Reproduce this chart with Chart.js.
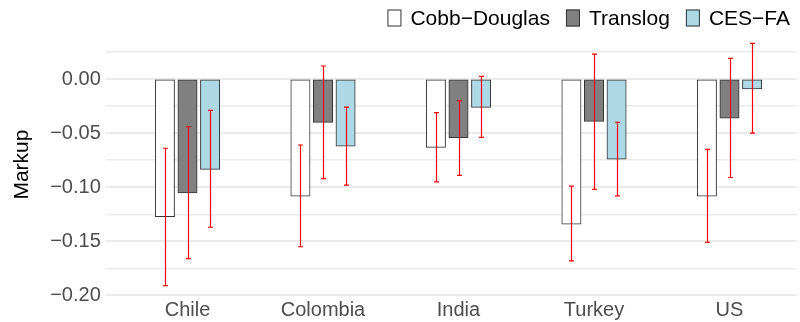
<!DOCTYPE html>
<html>
<head>
<meta charset="utf-8">
<script src="https://cdn.jsdelivr.net/npm/chart.js@4.4.1/dist/chart.umd.min.js"></script>
<style>
  html, body { margin: 0; padding: 0; background: #ffffff; }
  #wrap { width: 800px; height: 322px; }
</style>
</head>
<body>
<div id="wrap"><canvas id="markupChart" width="800" height="322"></canvas></div>
<script>
// Estimated markups by country and production function, with confidence bands
const countries = ['Chile', 'Colombia', 'India', 'Turkey', 'US'];
const seriesNames = ['Cobb−Douglas', 'Translog', 'CES−FA'];

const cobbDouglas     = [-0.127, -0.108, -0.063, -0.134, -0.108];
const cobbDouglasLow  = [-0.191, -0.155, -0.095, -0.168, -0.151];
const cobbDouglasHigh = [-0.064, -0.061, -0.031, -0.099, -0.065];

const translog     = [-0.105, -0.040, -0.054, -0.039, -0.036];
const translogLow  = [-0.166, -0.092, -0.089, -0.102, -0.091];
const translogHigh = [-0.044,  0.012, -0.020,  0.023,  0.019];

const cesFa     = [-0.0835, -0.062, -0.026, -0.074, -0.009];
const cesFaLow  = [-0.137,  -0.098, -0.054, -0.108, -0.050];
const cesFaHigh = [-0.029,  -0.026,  0.0025, -0.040, 0.033];

const yTickLabels = [0.00, -0.05, -0.10, -0.15, -0.20];

const FONT = '"Liberation Sans", Arimo, Arial, sans-serif';
const fmt = v => (v < -1e-9 ? '−' : '') + Math.abs(v).toFixed(2);

// major ticks carry labels; minor ticks sit halfway between them
const majorTicks = yTickLabels.slice();
const minorTicks = yTickLabels.map(v => v + 0.025);

// red interval whiskers over each bar
const errorBars = {
  id: 'errorBars',
  afterDatasetsDraw(chart) {
    const ctx = chart.ctx;
    const y = chart.scales.y;
    ctx.save();
    ctx.globalCompositeOperation = 'source-over';
    ctx.strokeStyle = 'rgb(255,0,0)';
    ctx.lineWidth = 1.2;
    chart.data.datasets.forEach((ds, i) => {
      const meta = chart.getDatasetMeta(i);
      meta.data.forEach((bar, j) => {
        const x = Math.round(bar.x) + 0.5;
        const yl = y.getPixelForValue(ds.errLow[j]);
        const yh = y.getPixelForValue(ds.errHigh[j]);
        ctx.beginPath();
        ctx.moveTo(x, yh); ctx.lineTo(x, yl);
        ctx.stroke();
        ctx.beginPath();
        ctx.moveTo(x - 2.5, yh); ctx.lineTo(x + 2.5, yh);
        ctx.moveTo(x - 2.5, yl); ctx.lineTo(x + 2.5, yl);
        ctx.stroke();
      });
    });
    ctx.restore();
  }
};

// right-aligned legend row above the panel
const topLegend = {
  id: 'topLegend',
  afterDraw(chart) {
    const ctx = chart.ctx;
    const fontSize = 21, boxW = 14, boxH = 17, textGap = 9, itemGap = 16;
    const cy = 18, rightEdge = 790;
    ctx.save();
    ctx.font = fontSize + 'px ' + FONT;
    ctx.textBaseline = 'middle';
    ctx.textAlign = 'left';
    const items = chart.data.datasets.map(ds => ({
      ds, w: ctx.measureText(ds.label).width
    }));
    let total = 0;
    items.forEach((it, k) => { total += boxW + textGap + it.w + (k ? itemGap : 0); });
    let x = rightEdge - total;
    items.forEach(it => {
      ctx.fillStyle = it.ds.backgroundColor;
      ctx.fillRect(x, cy - boxH / 2, boxW, boxH);
      ctx.strokeStyle = it.ds.borderColor;
      ctx.lineWidth = 1;
      ctx.strokeRect(x + 0.5, cy - boxH / 2 + 0.5, boxW - 1, boxH - 1);
      ctx.fillStyle = '#000000';
      ctx.fillText(it.ds.label, x + boxW + textGap, cy + 1);
      x += boxW + textGap + it.w + itemGap;
    });
    ctx.restore();
  }
};

const makeSet = (label, data, low, high, fill) => ({
  label, data, errLow: low, errHigh: high,
  backgroundColor: fill,
  borderColor: '#333333',
  borderWidth: 1,
  borderSkipped: false,
  inflateAmount: 0.5,
  barPercentage: 0.84,
  categoryPercentage: 0.5
});

new Chart(document.getElementById('markupChart'), {
  type: 'bar',
  data: {
    labels: countries,
    datasets: [
      makeSet(seriesNames[0], cobbDouglas, cobbDouglasLow, cobbDouglasHigh, '#FFFFFF'),
      makeSet(seriesNames[1], translog, translogLow, translogHigh, '#808080'),
      makeSet(seriesNames[2], cesFa, cesFaLow, cesFaHigh, '#ADD8E6')
    ]
  },
  options: {
    responsive: false,
    animation: false,
    devicePixelRatio: 1,
    layout: { padding: { top: 31.6, right: 2.75, bottom: 0, left: 0 } },
    plugins: { legend: { display: false }, tooltip: { enabled: false } },
    scales: {
      x: {
        offset: true,
        grid: { display: false, drawTicks: false },
        border: { display: false },
        ticks: { color: '#4D4D4D', font: { family: FONT, size: 20 }, padding: 1 },
        afterFit(scale) { scale.height = 24.5; }
      },
      y: {
        min: -0.2019,
        max: 0.0438,
        border: { display: false },
        grid: {
          color: '#EBEBEB',
          lineWidth: c => (c.tick && c.tick.minor ? 1.5 : 2),
          drawTicks: true,
          tickLength: 14
        },
        ticks: {
          autoSkip: false,
          color: '#4D4D4D',
          font: { family: FONT, size: 20 },
          padding: 5,
          callback: (v, i, ticks) => (ticks[i].minor ? '' : fmt(v))
        },
        title: {
          display: true,
          text: 'Markup',
          color: '#000000',
          font: { family: FONT, size: 21 },
          padding: { top: 10, bottom: 0 }
        },
        afterBuildTicks(scale) {
          const t = majorTicks.map(v => ({ value: v }))
            .concat(minorTicks.map(v => ({ value: v, minor: true })));
          t.sort((a, b) => a.value - b.value);
          scale.ticks = t;
        },
        afterFit(scale) { scale.width = 119.75; }
      }
    }
  },
  plugins: [errorBars, topLegend]
});
</script>
</body>
</html>
